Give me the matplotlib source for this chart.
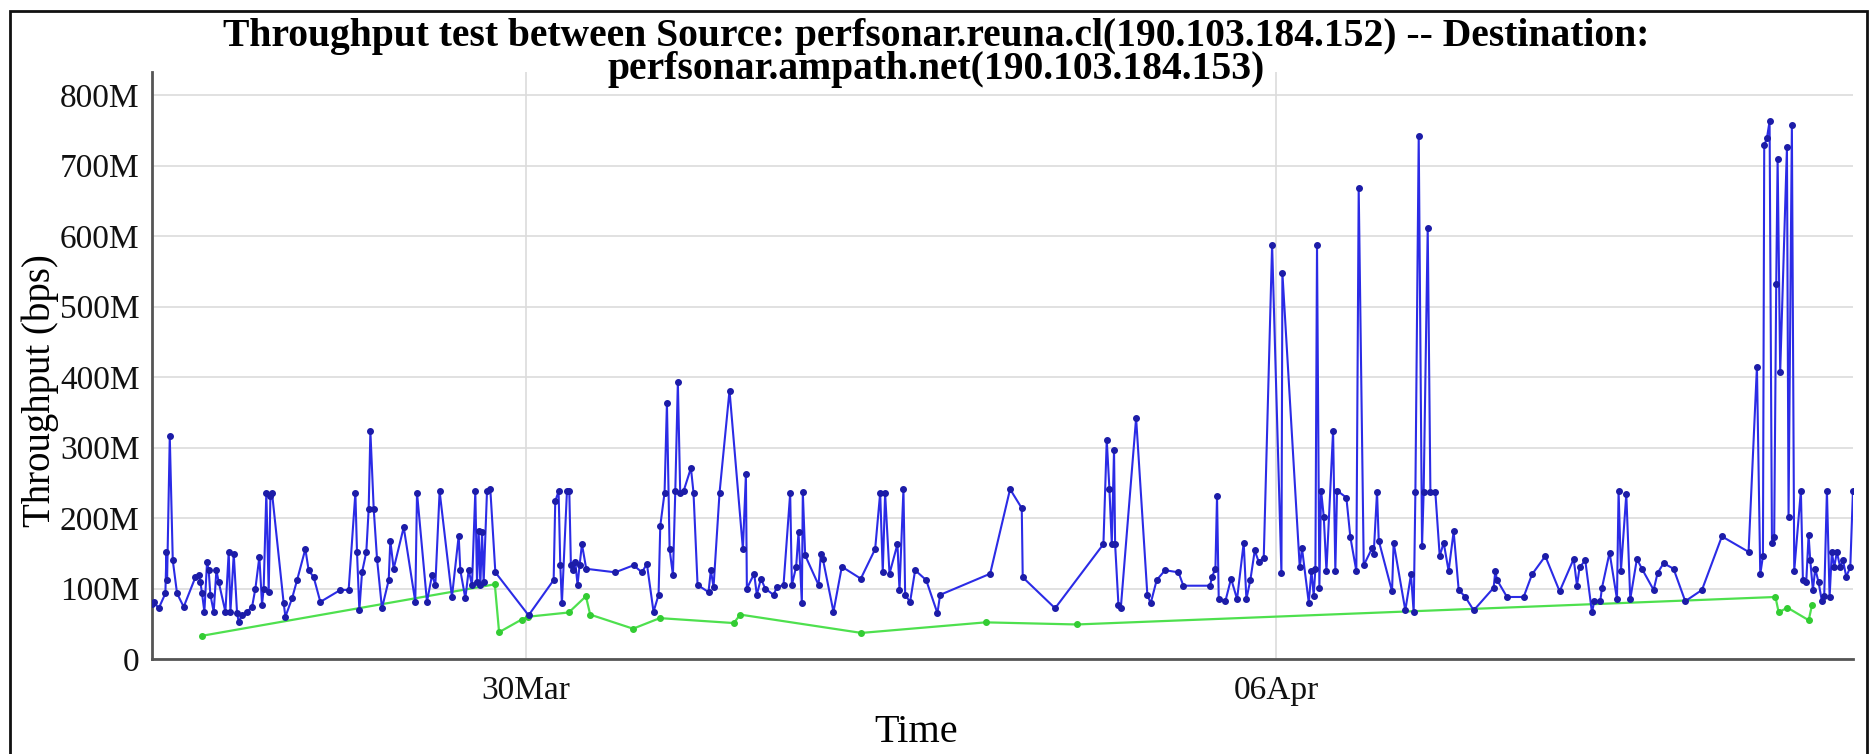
"""
plot.py - perfSONAR throughput test, reuna.cl -> ampath.net
"""

import numpy as np
import matplotlib
matplotlib.use("Agg")
import matplotlib.pyplot as plt
import matplotlib.dates as mdates
from matplotlib.patches import Rectangle

OUT_PATH = "out.png"

# time axis: days since 26 Mar 00:00
START = np.datetime64("2016-03-26T00:00")
X_MIN_DAY, X_MAX_DAY = 0.512, 16.383
Y_MAX = 833e6

# blue series: throughput in Mbps
blue_day = [
    0.512, 0.527, 0.574, 0.636, 0.646, 0.652, 0.677, 0.705, 0.745, 0.807,
    0.916, 0.947, 0.963, 0.978, 1.000, 1.025, 1.040, 1.056, 1.087, 1.112,
    1.134, 1.196, 1.227, 1.243, 1.274, 1.305, 1.320, 1.351, 1.398, 1.445,
    1.476, 1.513, 1.538, 1.553, 1.578, 1.600, 1.616, 1.631, 1.740, 1.756,
    1.818, 1.865, 1.942, 1.973, 2.020, 2.082, 2.269, 2.346, 2.409, 2.424,
    2.446, 2.471, 2.511, 2.533, 2.549, 2.580, 2.611, 2.657, 2.720, 2.735,
    2.766, 2.860, 2.968, 2.984, 3.077, 3.124, 3.155, 3.195, 3.310, 3.373,
    3.388, 3.435, 3.466, 3.497, 3.528, 3.544, 3.559, 3.575, 3.591, 3.606,
    3.637, 3.668, 3.715,
    4.025, 4.259, 4.274, 4.305, 4.321, 4.336, 4.383, 4.405, 4.420, 4.439,
    4.461, 4.482, 4.501, 4.523, 4.563, 4.834, 5.005, 5.083, 5.129, 5.191,
    5.238, 5.254, 5.294, 5.316, 5.341, 5.372, 5.394, 5.418, 5.440, 5.471,
    5.540, 5.564, 5.602, 5.704, 5.726, 5.751, 5.807, 5.900, 6.025, 6.053,
    6.062, 6.130, 6.155, 6.193, 6.233, 6.311, 6.342, 6.404, 6.466, 6.482,
    6.522, 6.544, 6.575, 6.584, 6.606, 6.731, 6.752, 6.771, 6.870, 6.948,
    7.125,
    7.259, 7.306, 7.330, 7.352, 7.393, 7.467, 7.486, 7.523, 7.539, 7.585,
    7.632, 7.735, 7.840, 7.865, 8.332, 8.518, 8.627, 8.636, 8.938, 9.389,
    9.420, 9.445, 9.467, 9.488, 9.498, 9.529, 9.551, 9.694, 9.799, 9.830,
    9.886, 9.964, 10.089, 10.135, 10.384,
    10.403, 10.434, 10.449, 10.465, 10.527, 10.580, 10.636, 10.698, 10.723,
    10.760, 10.801, 10.838, 10.885, 10.963, 11.050, 11.059, 11.221, 11.242,
    11.305, 11.330, 11.351, 11.367, 11.382, 11.404, 11.420, 11.445, 11.470,
    11.532, 11.553, 11.569, 11.656, 11.693, 11.749, 11.771, 11.818, 11.895,
    11.911, 11.942, 11.958, 12.082, 12.097, 12.206, 12.259, 12.284, 12.300,
    12.331, 12.362, 12.377, 12.415, 12.440, 12.486, 12.527, 12.564, 12.610,
    12.657, 12.704, 12.766, 12.844, 13.030, 13.046, 13.062, 13.155, 13.310,
    13.388, 13.512, 13.646, 13.777, 13.808, 13.832, 13.885, 13.948, 13.969,
    14.025, 14.041, 14.112, 14.181, 14.196, 14.218, 14.268, 14.305, 14.367,
    14.414, 14.523, 14.560, 14.616, 14.709, 14.818, 14.974, 15.160, 15.409,
    15.487, 15.518, 15.543, 15.555, 15.580, 15.605, 15.627, 15.648, 15.667,
    15.680, 15.704, 15.767, 15.782, 15.813, 15.835, 15.897, 15.916, 15.947,
    15.969, 15.984, 16.009, 16.031, 16.062, 16.093, 16.115, 16.140, 16.165,
    16.186, 16.208, 16.233, 16.264, 16.289, 16.320, 16.358, 16.383,
]
blue_mbps = [
    78, 81, 72, 93, 152, 112, 316, 140, 93, 74,
    116, 119, 109, 93, 67, 138, 126, 91, 67, 126,
    109, 67, 152, 67, 149, 65, 53, 62, 67, 74,
    100, 145, 77, 100, 236, 95, 231, 236, 79, 60,
    86, 112, 156, 126, 116, 81, 98, 98, 236, 152,
    69, 123, 152, 213, 323, 213, 142, 72, 112, 168,
    128, 187, 81, 236, 81, 119, 105, 238, 88, 175,
    126, 86, 126, 105, 238, 109, 182, 105, 180, 109,
    238, 241, 123,
    62, 112, 224, 238, 133, 79, 238, 238, 133, 126,
    138, 105, 133, 163, 128, 123, 133, 123, 135, 67,
    91, 189, 236, 363, 156, 119, 238, 393, 236, 238,
    271, 236, 105, 95, 126, 102, 236, 381, 156, 262,
    100, 121, 91, 114, 100, 91, 102, 105, 235, 105,
    131, 180, 79, 237, 147, 105, 149, 142, 67, 131,
    114,
    156, 236, 123, 235, 121, 163, 98, 241, 91, 81,
    126, 112, 65, 91, 121, 241, 214, 116, 72, 163,
    311, 241, 163, 297, 163, 77, 72, 342, 91, 79,
    112, 126, 123, 104, 104,
    117, 128, 231, 85, 82, 114, 85, 165, 85,
    112, 154, 138, 144, 588, 122, 548, 130, 157,
    80, 125, 90, 128, 588, 101, 239, 202, 125,
    324, 125, 239, 229, 173, 125, 668, 133, 157,
    149, 237, 168, 96, 165, 69, 120, 66, 237,
    742, 160, 237, 612, 237, 237, 146, 165, 125,
    181, 98, 88, 69, 101, 125, 112, 88, 88,
    120, 146, 96, 142, 104, 130, 140, 66, 82,
    82, 101, 151, 85, 239, 125, 234, 85, 142,
    128, 98, 122, 136, 128, 82, 98, 174, 152,
    415, 120, 146, 729, 739, 763, 165, 173, 532,
    710, 407, 726, 202, 758, 125, 239, 112, 109,
    176, 141, 98, 128, 109, 82, 90, 239, 88,
    152, 130, 152, 130, 141, 117, 130, 239,
]

# green series: throughput in Mbps
green_day = [0.98, 3.71, 3.75, 3.96, 4.02, 4.40, 4.56, 4.60, 5.00, 5.25,
             5.94, 6.00, 7.13, 8.29, 9.14, 15.66, 15.69, 15.77, 15.97, 16.00]
green_mbps = [33, 106, 38, 56, 60, 66, 89, 63, 43, 58,
              51, 63, 37, 52, 49, 88, 66, 73, 55, 76]

TICK_DAYS = [4, 11]  # 30Mar, 06Apr


def to_time(days):
    return START + (np.asarray(days) * 86400).astype("timedelta64[s]")


def mega_fmt(v, pos):
    return "0" if v == 0 else f"{v / 1e6:.0f}M"


def main():
    plt.rcParams["font.family"] = ["Liberation Serif", "DejaVu Serif"]

    fig = plt.figure(figsize=(18.73, 7.54), dpi=100)
    ax = fig.add_axes([0.0812, 0.126, 0.9081, 0.7785])

    # outer frame round the whole chart
    fig.patches.append(Rectangle((10 / 1873, -0.05), 1857 / 1873, 1.05 - 11 / 754,
                                 transform=fig.transFigure, fill=False,
                                 edgecolor="#111111", linewidth=2))

    ax.plot(to_time(blue_day), np.array(blue_mbps) * 1e6, color="#2b2be6",
            linewidth=1.5, marker="o", markersize=4,
            markerfacecolor="#1c1ca8", markeredgecolor="#1c1ca8", zorder=3)
    ax.plot(to_time(green_day), np.array(green_mbps) * 1e6, color="#4ee04e",
            linewidth=1.6, marker="o", markersize=4,
            markerfacecolor="#33cc33", markeredgecolor="#33cc33", zorder=2)

    ax.set_xlim(to_time(X_MIN_DAY), to_time(X_MAX_DAY))
    ax.set_ylim(0, Y_MAX)
    ax.set_yticks(np.arange(0, 800e6 + 1, 100e6))
    ax.yaxis.set_major_formatter(plt.FuncFormatter(mega_fmt))
    ax.set_xticks(to_time(TICK_DAYS))
    ax.xaxis.set_major_formatter(mdates.DateFormatter("%d%b"))

    ax.grid(True, color="#dcdcdc", linewidth=1.2)
    ax.set_axisbelow(True)
    for side in ("top", "right"):
        ax.spines[side].set_visible(False)
    for side in ("left", "bottom"):
        ax.spines[side].set_color("#555555")
        ax.spines[side].set_linewidth(2)
    ax.tick_params(axis="both", length=0, labelsize=24, colors="#111111")
    ax.tick_params(axis="y", pad=9)
    ax.tick_params(axis="x", pad=12)

    ax.set_ylabel("Throughput (bps)", fontsize=28)
    ax.yaxis.set_label_coords(-0.0546, 0.457)
    ax.set_xlabel("Time", fontsize=29)
    ax.xaxis.set_label_coords(0.449, -0.094)

    fig.text(0.5, 0.976,
             "Throughput test between Source: perfsonar.reuna.cl(190.103.184.152) -- Destination:\n"
             "perfsonar.ampath.net(190.103.184.153)",
             ha="center", va="top", ma="center", fontsize=28.5, fontweight="bold",
             linespacing=0.85)

    fig.savefig(OUT_PATH, dpi=100)
    plt.close(fig)


if __name__ == "__main__":
    main()
